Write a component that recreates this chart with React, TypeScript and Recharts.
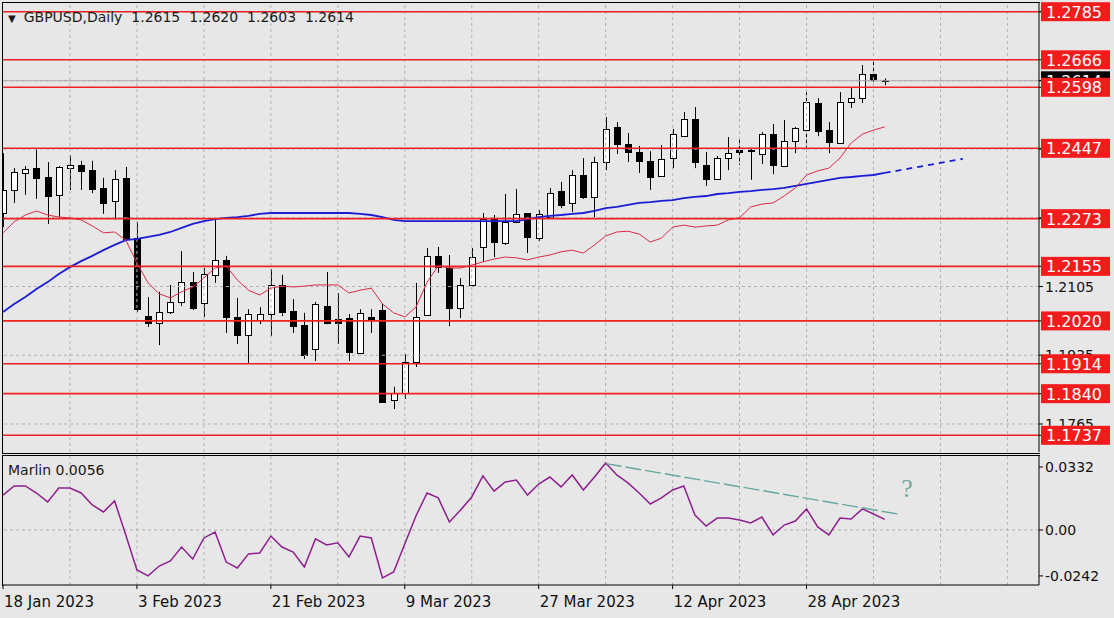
import React from 'react'
import { ComposedChart, Bar, Line, XAxis, YAxis, ReferenceLine, ReferenceDot } from 'recharts'

// GBPUSD daily, 18 Jan - 9 May 2023
const opens = [
  1.2287, 1.2344, 1.2386, 1.2398, 1.2376, 1.2332, 1.2398, 1.2406, 1.2393, 1.2349,
  1.2317, 1.2374, 1.2225, 1.2032, 1.2015, 1.2042, 1.2067, 1.2116, 1.2064, 1.2134,
  1.2171, 1.2030, 1.1985, 1.2022, 1.2037, 1.2109, 1.2044, 1.2010, 1.1951, 1.2057,
  1.2025, 1.2027, 1.1941, 1.2030, 1.2047, 1.1824, 1.1842, 1.1918, 1.2035, 1.2181,
  1.2151, 1.2052, 1.2109, 1.2203, 1.2272, 1.2213, 1.2265, 1.2287, 1.2225, 1.2277,
  1.2341, 1.2312, 1.2381, 1.2327, 1.2413, 1.2500, 1.2458, 1.2438, 1.2416, 1.2379,
  1.2423, 1.2477, 1.2520, 1.2406, 1.2371, 1.2423, 1.2443, 1.2443, 1.2433, 1.2482,
  1.2403, 1.2465, 1.2492, 1.2559, 1.2492, 1.2460, 1.2562, 1.2571, 1.2631, 1.2615,
]
const highs = [
  1.2435, 1.2398, 1.2403, 1.2445, 1.2413, 1.2403, 1.2430, 1.2416, 1.2416, 1.2374,
  1.2393, 1.2401, 1.2265, 1.2079, 1.2092, 1.2109, 1.2193, 1.2141, 1.2151, 1.2275,
  1.2181, 1.2077, 1.2049, 1.2054, 1.2148, 1.2134, 1.2074, 1.2040, 1.2067, 1.2141,
  1.2089, 1.2037, 1.2049, 1.2049, 1.2062, 1.1857, 1.1938, 1.2114, 1.2200, 1.2203,
  1.2183, 1.2126, 1.2200, 1.2287, 1.2282, 1.2334, 1.2346, 1.2287, 1.2294, 1.2349,
  1.2364, 1.2393, 1.2423, 1.2426, 1.2524, 1.2512, 1.2485, 1.2453, 1.2440, 1.2455,
  1.2495, 1.2537, 1.2549, 1.2438, 1.2428, 1.2475, 1.2470, 1.2445, 1.2487, 1.2507,
  1.2517, 1.2500, 1.2586, 1.2571, 1.2512, 1.2586, 1.2596, 1.2653, 1.2666, 1.2620,
]
const lows = [
  1.2252, 1.2312, 1.2332, 1.2322, 1.2260, 1.2277, 1.2344, 1.2344, 1.2336, 1.2285,
  1.2270, 1.2220, 1.2042, 1.2005, 1.1960, 1.2037, 1.2057, 1.2047, 1.2030, 1.2114,
  1.1990, 1.1963, 1.1916, 1.2012, 1.1983, 1.2032, 1.1990, 1.1926, 1.1921, 1.2012,
  1.1963, 1.1921, 1.1941, 1.1990, 1.1817, 1.1802, 1.1827, 1.1906, 1.2035, 1.2139,
  1.2007, 1.2027, 1.2104, 1.2166, 1.2178, 1.2208, 1.2262, 1.2188, 1.2218, 1.2277,
  1.2299, 1.2289, 1.2322, 1.2277, 1.2393, 1.2433, 1.2413, 1.2386, 1.2344, 1.2379,
  1.2398, 1.2477, 1.2398, 1.2354, 1.2369, 1.2393, 1.2406, 1.2369, 1.2408, 1.2383,
  1.2403, 1.2435, 1.2450, 1.2477, 1.2435, 1.2460, 1.2547, 1.2559, 1.2611, 1.2603,
]
const closes = [
  1.2344, 1.2388, 1.2396, 1.2374, 1.2329, 1.2401, 1.2406, 1.2391, 1.2346, 1.2312,
  1.2371, 1.2223, 1.2049, 1.2015, 1.2042, 1.2067, 1.2116, 1.2052, 1.2136, 1.2171,
  1.2030, 1.1985, 1.2037, 1.2037, 1.2109, 1.2042, 1.2007, 1.1936, 1.2062, 1.2015,
  1.2015, 1.1943, 1.2040, 1.2022, 1.1819, 1.1842, 1.1918, 1.2030, 1.2181, 1.2153,
  1.2052, 1.2109, 1.2178, 1.2272, 1.2215, 1.2265, 1.2285, 1.2228, 1.2285, 1.2336,
  1.2307, 1.2381, 1.2327, 1.2413, 1.2495, 1.2458, 1.2438, 1.2416, 1.2376, 1.2421,
  1.2482, 1.2520, 1.2413, 1.2371, 1.2423, 1.2435, 1.2438, 1.2440, 1.2482, 1.2406,
  1.2465, 1.2497, 1.2562, 1.2490, 1.2463, 1.2562, 1.2571, 1.2631, 1.2615, 1.2614,
]
// red (fast) and blue (slow) moving averages
const fastMa = [
  1.2238, 1.2265, 1.2282, 1.2292, 1.2282, 1.2277, 1.2275, 1.2270, 1.2255, 1.2238,
  1.2240, 1.2220, 1.2163, 1.2114, 1.2087, 1.2077, 1.2092, 1.2104, 1.2126, 1.2151,
  1.2156, 1.2121, 1.2096, 1.2084, 1.2101, 1.2106, 1.2104, 1.2106, 1.2109, 1.2109,
  1.2109, 1.2089, 1.2096, 1.2101, 1.2062, 1.2040, 1.2030, 1.2054, 1.2116, 1.2156,
  1.2151, 1.2151, 1.2158, 1.2166, 1.2173, 1.2178, 1.2176, 1.2171, 1.2178, 1.2183,
  1.2191, 1.2195, 1.2188, 1.2208, 1.2230, 1.2240, 1.2242, 1.2235, 1.2215, 1.2225,
  1.2252, 1.2257, 1.2252, 1.2255, 1.2257, 1.2270, 1.2275, 1.2302, 1.2309, 1.2312,
  1.2329, 1.2349, 1.2381, 1.2391, 1.2398, 1.2423, 1.2460, 1.2482, 1.2492, 1.2500,
]
const slowMa = [
  1.2042, 1.2062, 1.2079, 1.2099, 1.2116, 1.2136, 1.2153, 1.2168, 1.2181, 1.2195,
  1.2208, 1.2220, 1.2223, 1.2228, 1.2233, 1.2240, 1.2250, 1.2260, 1.2267, 1.2272,
  1.2275, 1.2277, 1.2280, 1.2285, 1.2287, 1.2287, 1.2287, 1.2287, 1.2287, 1.2287,
  1.2287, 1.2287, 1.2285, 1.2282, 1.2277, 1.2270, 1.2267, 1.2267, 1.2267, 1.2267,
  1.2267, 1.2267, 1.2267, 1.2267, 1.2267, 1.2267, 1.2267, 1.2272, 1.2277, 1.2280,
  1.2282, 1.2285, 1.2287, 1.2292, 1.2299, 1.2302, 1.2307, 1.2312, 1.2314, 1.2317,
  1.2319, 1.2324, 1.2327, 1.2329, 1.2334, 1.2336, 1.2339, 1.2341, 1.2344, 1.2346,
  1.2349, 1.2354, 1.2359, 1.2364, 1.2369, 1.2374, 1.2376, 1.2379, 1.2381, 1.2386,
]
const slowProjection = [{ x: 79, y: 1.2386 }, { x: 86, y: 1.2421 }]

const marlin = [
  0.0184, 0.0232, 0.0232, 0.0195, 0.0148, 0.0221, 0.0221, 0.0195, 0.0132, 0.0095,
  0.0153, -0.0026, -0.0211, -0.0242, -0.019, -0.0163, -0.009, -0.0153, -0.0042, -0.0011,
  -0.0169, -0.02, -0.0126, -0.0121, -0.0032, -0.009, -0.0116, -0.0195, -0.0047, -0.0079,
  -0.0068, -0.0142, -0.0032, -0.0042, -0.0253, -0.0221, -0.0074, 0.0074, 0.0195, 0.0169,
  0.0042, 0.0105, 0.0174, 0.0285, 0.0205, 0.0253, 0.0263, 0.0184, 0.0242, 0.0279,
  0.0227, 0.029, 0.0211, 0.0279, 0.0353, 0.029, 0.0248, 0.0195, 0.0137, 0.0169,
  0.0211, 0.0232, 0.0079, 0.0021, 0.0063, 0.0063, 0.0053, 0.0037, 0.0068, -0.0026,
  0.0026, 0.0047, 0.0111, 0.0016, -0.0026, 0.0063, 0.0058, 0.0111, 0.0084, 0.0056,
]
const marlinTrend = [{ x: 54, y: 0.035 }, { x: 80.2, y: 0.0084 }]

const levels = [1.2785, 1.2666, 1.2598, 1.2447, 1.2273, 1.2155, 1.202, 1.1914, 1.184, 1.1737]
const lastPrice = 1.2614
const priceTicks = [1.1765, 1.1935, 1.2105, 1.2275, 1.2445, 1.2615, 1.2785]
const marlinTicks = [-0.0242, 0, 0.0332]
const gridCols = [6, 12, 18, 24, 30, 36, 42, 48, 54, 60, 66, 72, 78, 84, 90]
const dateTicks = [0, 12, 24, 36, 48, 60, 72]
const dateLabels = ['18 Jan 2023', '3 Feb 2023', '21 Feb 2023', '9 Mar 2023', '27 Mar 2023', '12 Apr 2023', '28 Apr 2023']

const FONT = 'DejaVu Sans'
const BG = '#e7e7e7'
const X_DOMAIN: [number, number] = [-0.09, 92.83]

// scale labels first, then the price tag, then the level tags on top
const axisValues = [...priceTicks, lastPrice, ...levels]

const rows = opens.map((o, i) => ({
  i,
  open: o,
  high: highs[i],
  low: lows[i],
  close: closes[i],
  range: [lows[i], highs[i]],
  fast: fastMa[i],
  slow: slowMa[i],
  marlin: marlin[i],
}))

const Candle = (props: any) => {
  const { x, y, width, height, payload } = props
  if (!payload || payload.open == null) return null
  const { open, close, high, low } = payload
  const top = Math.min(y, y + height)
  const h = Math.abs(height)
  const k = high === low ? 0 : h / (high - low)
  const cx = Math.round(x + width / 2) + 0.5
  const yo = top + (high - open) * k
  const yc = top + (high - close) * k
  const bTop = Math.round(Math.min(yo, yc)) + 0.5
  const bBot = Math.round(Math.max(yo, yc)) + 0.5
  const up = close >= open
  return (
    <g>
      <line x1={cx} x2={cx} y1={top} y2={top + h} stroke="#000" strokeWidth={1} />
      {bBot - bTop < 1 ? (
        <line x1={cx - 3} x2={cx + 3} y1={bTop} y2={bTop} stroke="#000" strokeWidth={1} />
      ) : (
        <rect x={cx - 3} y={bTop} width={6} height={bBot - bTop} fill={up ? '#fff' : '#000'} stroke="#000" strokeWidth={1} />
      )}
    </g>
  )
}

const PriceAxisTick = (props: any) => {
  const { x, y, payload, index } = props
  const v = payload.value
  const isLevel = index > priceTicks.length
  const isLast = index === priceTicks.length
  if (isLevel || isLast) {
    const bx = x - 4
    return (
      <g>
        <rect x={bx} y={y - 9.5} width={69} height={19} fill={isLast ? '#000' : '#f21c1c'} />
        <text x={bx + 5} y={y + 6} fill="#fff" fontSize={16} fontFamily={FONT}>
          {v.toFixed(4)}
        </text>
      </g>
    )
  }
  // scale labels that sit fully under a tag are not visible
  if ([lastPrice, ...levels].some((l) => Math.abs(l - v) < 0.001)) return null
  return (
    <text x={x} y={y + 5} fontSize={14} fontFamily={FONT} fill="#111">
      {v.toFixed(4)}
    </text>
  )
}

const MarlinTick = (props: any) => {
  const { x, y, payload } = props
  return (
    <text x={x} y={y + 5} fontSize={14} fontFamily={FONT} fill="#111">
      {payload.value === 0 ? '0.00' : payload.value.toFixed(4)}
    </text>
  )
}

const DateTick = (props: any) => {
  const { x, y, payload } = props
  const idx = dateTicks.indexOf(payload.value)
  return (
    <text x={x + 1} y={y + 16} fontSize={15} fontFamily={FONT} fill="#111">
      {dateLabels[idx]}
    </text>
  )
}

export default function App() {
  return (
    <div style={{ position: 'absolute', left: 0, top: 0, width: 1114, height: 618, background: BG, overflow: 'hidden' }}>
      <div style={{ position: 'absolute', left: 0, top: 0 }}>
        <ComposedChart width={1114} height={455} data={rows} margin={{ top: 3, right: 0, bottom: 3, left: 2 }}>
          <XAxis dataKey="i" type="number" domain={X_DOMAIN} allowDataOverflow hide />
          <YAxis
            orientation="right"
            width={75}
            domain={[1.16957, 1.28065]}
            allowDataOverflow
            ticks={axisValues}
            interval={0}
            axisLine={{ stroke: '#000' }}
            tickLine={{ stroke: '#000' }}
            tickSize={4}
            tick={<PriceAxisTick />}
          />
          {gridCols.map((c) => (
            <ReferenceLine key={'v' + c} x={c} stroke="#b2b2b2" strokeDasharray="3 3" />
          ))}
          {priceTicks.map((t) => (
            <ReferenceLine key={'h' + t} y={t} stroke="#b2b2b2" strokeDasharray="3 3" />
          ))}
          <ReferenceLine y={lastPrice} stroke="#a8a8a8" />
          <Line dataKey="slow" stroke="#1c1cd6" strokeWidth={1.8} dot={false} isAnimationActive={false} />
          <Line dataKey="fast" stroke="#dc2a48" strokeWidth={1} dot={false} isAnimationActive={false} />
          <ReferenceLine segment={slowProjection} stroke="#1c1cd6" strokeWidth={1.8} strokeDasharray="6 5" />
          <Bar dataKey="range" barSize={7} shape={<Candle />} isAnimationActive={false} />
          {levels.map((l) => (
            <ReferenceLine key={'l' + l} y={l} stroke="#ee2222" strokeWidth={1.6} />
          ))}
        </ComposedChart>
      </div>

      <div style={{ position: 'absolute', left: 0, top: 455 }}>
        <ComposedChart width={1114} height={163} data={rows} margin={{ top: 1, right: 0, bottom: 0, left: 2 }}>
          <XAxis
            dataKey="i"
            type="number"
            domain={X_DOMAIN}
            allowDataOverflow
            ticks={dateTicks}
            interval={0}
            height={33}
            axisLine={{ stroke: '#000' }}
            tickLine={{ stroke: '#000' }}
            tickSize={4}
            tick={<DateTick />}
          />
          <YAxis
            orientation="right"
            width={75}
            domain={[-0.029, 0.039]}
            allowDataOverflow
            ticks={marlinTicks}
            interval={0}
            axisLine={{ stroke: '#000' }}
            tickLine={{ stroke: '#000' }}
            tickSize={4}
            tick={<MarlinTick />}
          />
          {gridCols.map((c) => (
            <ReferenceLine key={'mv' + c} x={c} stroke="#b2b2b2" strokeDasharray="3 3" />
          ))}
          <ReferenceLine y={0} stroke="#b2b2b2" strokeDasharray="3 3" />
          <Line dataKey="marlin" stroke="#8e1f8e" strokeWidth={1.5} dot={false} isAnimationActive={false} />
          <ReferenceLine segment={marlinTrend} stroke="#64a89e" strokeWidth={1.4} strokeDasharray="16 4" />
          <ReferenceDot
            x={81}
            y={0.022}
            r={0}
            fill="none"
            stroke="none"
            label={{ value: '?', fill: '#72aaa2', fontSize: 26, fontFamily: 'Liberation Serif' }}
          />
        </ComposedChart>
      </div>

      {/* panel frames */}
      <div style={{ position: 'absolute', left: 2, top: 2, width: 1037, height: 450, border: '1px solid #000', borderRight: 'none', pointerEvents: 'none' }} />
      <div style={{ position: 'absolute', left: 2, top: 455, width: 1037, height: 130, borderTop: '1px solid #000', borderLeft: '1px solid #000', pointerEvents: 'none' }} />

      <div style={{ position: 'absolute', left: 8, top: 9, fontFamily: FONT, fontSize: 14, color: '#1a1a1a', whiteSpace: 'pre', lineHeight: '16px' }}>
        <span style={{ fontSize: 10, marginRight: 8 }}>▼</span>
        {'GBPUSD,Daily  1.2615  1.2620  1.2603  1.2614'}
      </div>
      <div style={{ position: 'absolute', left: 8, top: 462, fontFamily: FONT, fontSize: 14, color: '#1a1a1a', lineHeight: '16px' }}>
        Marlin 0.0056
      </div>
    </div>
  )
}
